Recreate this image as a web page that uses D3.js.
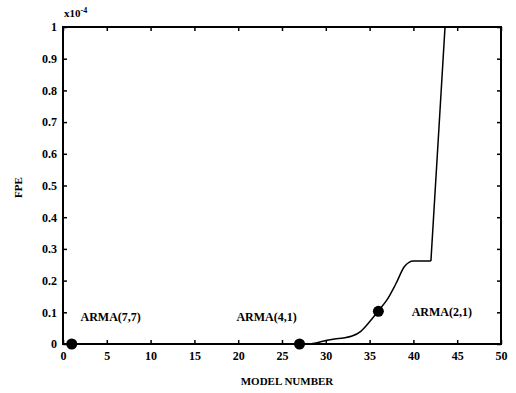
<!DOCTYPE html>
<html><head><meta charset="utf-8">
<script src="https://cdn.jsdelivr.net/npm/d3@7"></script>
<style>body{margin:0;background:#fff}</style>
</head><body>
<svg id="c" width="516" height="393"></svg>
<script>
const modelNumbers = d3.range(1, 45);
const fpeValues = [
  0,0,0,0,0,0,0,0,0,0,           // 1-10
  0,0,0,0,0,0,0,0,0,0,           // 11-20
  0,0,0,0,0,0,0,0,0.004,0.011,   // 21-30
  0.016,0.019,0.025,0.04,0.07,0.105,0.14,0.19,0.245,0.262, // 31-40
  0.262,0.262,0.72,1.18          // 41-44
];
const markedModels = [1, 27, 36];
const markedValues = [0, 0, 0.103];
const annotations = ["ARMA(7,7)", "ARMA(4,1)", "ARMA(2,1)"];
const annotX = [2, 19.8, 39.8];
const annotY = [0.085, 0.085, 0.1];
const xTicks = d3.range(0, 51, 5);
const yTicks = [0,0.1,0.2,0.3,0.4,0.5,0.6,0.7,0.8,0.9,1];

const svg = d3.select("#c");
const L = 63, R = 501, T = 27, B = 344;
const x = d3.scaleLinear().domain([0, 50]).range([L, R]);
const y = d3.scaleLinear().domain([0, 1]).range([B, T]);
const font = "'Liberation Serif', 'DejaVu Serif', serif";

svg.append("defs").append("clipPath").attr("id", "clip")
  .append("rect").attr("x", L).attr("y", T).attr("width", R - L).attr("height", B - T);

// axes with inward ticks
const fmtY = d => d === 0 ? "0" : d === 1 ? "1" : d3.format(".1f")(d);
const gx = svg.append("g").attr("transform", `translate(0,${B})`)
  .call(d3.axisBottom(x).tickValues(xTicks).tickSize(-4).tickPadding(7).tickSizeOuter(0));
const gy = svg.append("g").attr("transform", `translate(${L},0)`)
  .call(d3.axisLeft(y).tickValues(yTicks).tickFormat(fmtY).tickSize(-4).tickPadding(6).tickSizeOuter(0));
const gt = svg.append("g").attr("transform", `translate(0,${T})`)
  .call(d3.axisTop(x).tickValues(xTicks).tickSize(-4).tickFormat("").tickSizeOuter(0));
const gr = svg.append("g").attr("transform", `translate(${R},0)`)
  .call(d3.axisRight(y).tickValues(yTicks).tickSize(-4).tickFormat("").tickSizeOuter(0));
[gx, gy, gt, gr].forEach(g => {
  g.select(".domain").remove();
  g.selectAll(".tick line").attr("stroke", "#000").attr("stroke-width", 1.5);
  g.selectAll("text").attr("font-family", font).attr("font-weight", "bold")
    .attr("font-size", 12).attr("fill", "#000");
});

svg.append("rect").attr("x", L).attr("y", T).attr("width", R - L).attr("height", B - T)
  .attr("fill", "none").attr("stroke", "#000").attr("stroke-width", 2);

// curve: smooth up to the plateau end (model 42), straight afterwards
const data = modelNumbers.map((m, i) => [m, fpeValues[i]]);
const smoothPart = data.filter(d => d[0] <= 42);
const steepPart = data.filter(d => d[0] >= 42);
const g = svg.append("g").attr("clip-path", "url(#clip)");
g.append("path").datum(smoothPart)
  .attr("fill", "none").attr("stroke", "#000").attr("stroke-width", 1.5)
  .attr("d", d3.line().x(d => x(d[0])).y(d => y(d[1])).curve(d3.curveMonotoneX));
g.append("path").datum(steepPart)
  .attr("fill", "none").attr("stroke", "#000").attr("stroke-width", 1.5)
  .attr("d", d3.line().x(d => x(d[0])).y(d => y(d[1])));

// markers
svg.selectAll("circle.m").data(markedModels).enter().append("circle")
  .attr("cx", d => x(d)).attr("cy", (d, i) => y(markedValues[i])).attr("r", 5.5).attr("fill", "#000");

// annotations
svg.selectAll("text.a").data(annotations).enter().append("text")
  .attr("x", (d, i) => x(annotX[i])).attr("y", (d, i) => y(annotY[i]) + 4)
  .attr("font-family", font).attr("font-weight", "bold").attr("font-size", 12)
  .attr("fill", "#000").text(d => d);

// exponent
const ex = svg.append("text").attr("x", 64).attr("y", 17)
  .attr("font-family", font).attr("font-size", 11).attr("font-weight", "bold").attr("fill", "#000");
ex.append("tspan").text("x10");
ex.append("tspan").attr("dy", -4).attr("font-size", 8).text("-4");

// axis titles
svg.append("text").attr("x", (L + R) / 2 + 5).attr("y", 385).attr("text-anchor", "middle")
  .attr("font-family", font).attr("font-weight", "bold").attr("font-size", 11).attr("fill", "#000")
  .text("MODEL NUMBER");
svg.append("text").attr("transform", `translate(22,${(T + B) / 2 + 2}) rotate(-90)`)
  .attr("text-anchor", "middle")
  .attr("font-family", font).attr("font-weight", "bold").attr("font-size", 11).attr("fill", "#000")
  .text("FPE");
</script>
</body></html>
